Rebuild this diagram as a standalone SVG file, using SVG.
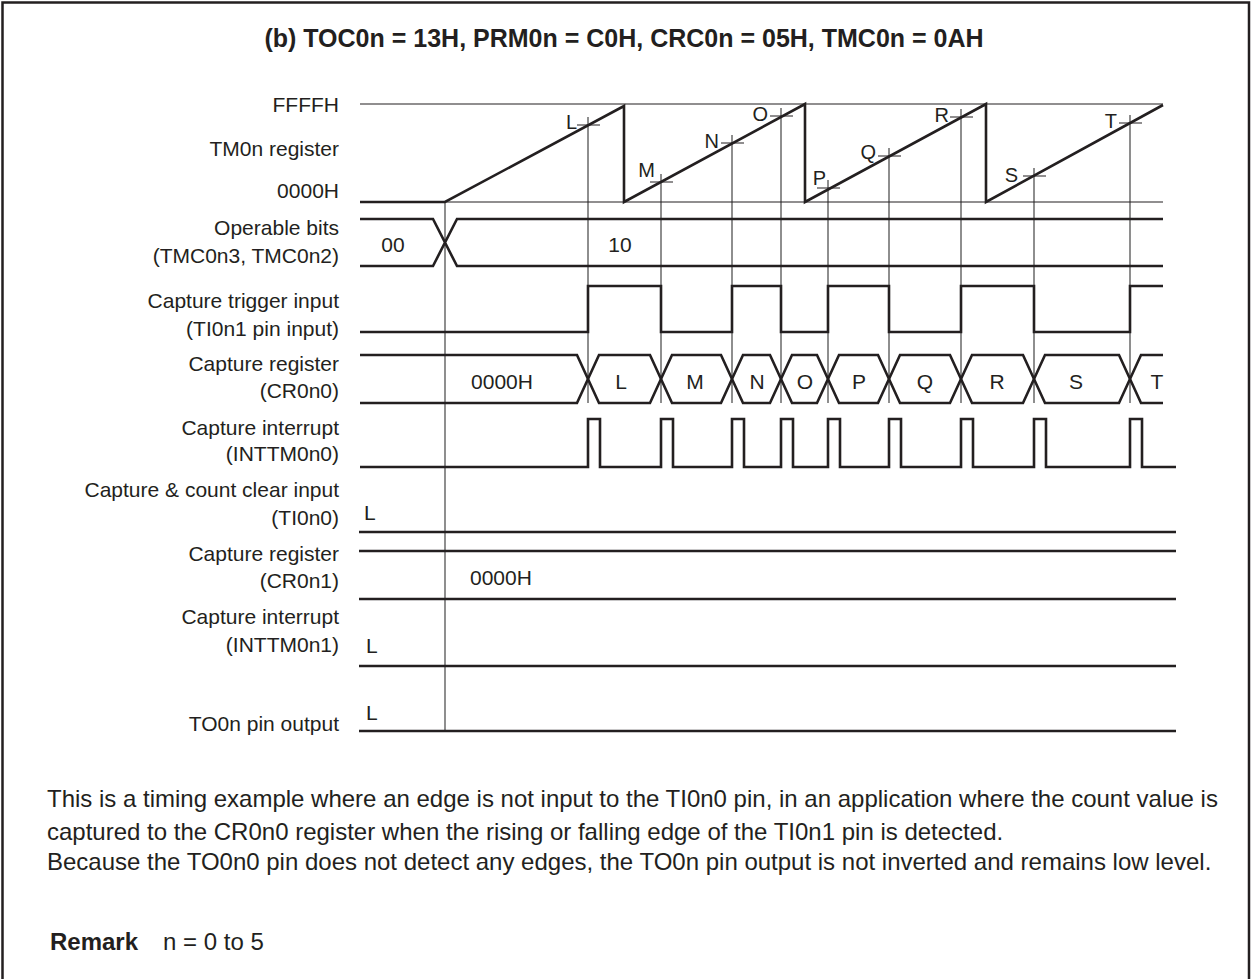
<svg xmlns="http://www.w3.org/2000/svg" width="1252" height="979" viewBox="0 0 1252 979">
<defs>
<style>
text{font-family:"Liberation Sans",Arial,sans-serif;fill:#231f20}
.lbl{font-size:21px;text-anchor:end}
.val{font-size:21px;text-anchor:middle}
.pt{font-size:20px;text-anchor:end}
.sm{font-size:21px}
.body{font-size:24px}
.title{font-size:25px;font-weight:bold;text-anchor:middle}
.sig{fill:none;stroke:#231f20;stroke-width:2.6;stroke-linejoin:miter}
.thin{fill:none;stroke:#231f20;stroke-width:1.2}
.guide{fill:none;stroke:#444;stroke-width:1.2}
</style>
</defs>
<rect width="1252" height="979" fill="#fff"/>
<path d="M2.5,979 V2.5 H1249 V979" fill="none" stroke="#231f20" stroke-width="2.5"/>
<text class="title" x="624" y="47">(b) TOC0n = 13H, PRM0n = C0H, CRC0n = 05H, TMC0n = 0AH</text>

<g id="labels">
<text class="lbl" x="339" y="112">FFFFH</text>
<text class="lbl" x="339" y="156">TM0n register</text>
<text class="lbl" x="339" y="198">0000H</text>
<text class="lbl" x="339" y="235">Operable bits</text>
<text class="lbl" x="339" y="263">(TMC0n3, TMC0n2)</text>
<text class="lbl" x="339" y="308">Capture trigger input</text>
<text class="lbl" x="339" y="336">(TI0n1 pin input)</text>
<text class="lbl" x="339" y="371">Capture register</text>
<text class="lbl" x="339" y="398">(CR0n0)</text>
<text class="lbl" x="339" y="435">Capture interrupt</text>
<text class="lbl" x="339" y="461">(INTTM0n0)</text>
<text class="lbl" x="339" y="497">Capture &amp; count clear input</text>
<text class="lbl" x="339" y="525">(TI0n0)</text>
<text class="lbl" x="339" y="561">Capture register</text>
<text class="lbl" x="339" y="588">(CR0n1)</text>
<text class="lbl" x="339" y="624">Capture interrupt</text>
<text class="lbl" x="339" y="652">(INTTM0n1)</text>
<text class="lbl" x="339" y="731">TO0n pin output</text>
</g>

<g id="connectors">
<line class="guide" x1="445" y1="202" x2="445" y2="731"/>
<path class="guide" d="M588,117 V403 M661,174 V403 M732,135 V403 M781,108 V403 M828,180 V403 M889,148 V403 M961,109 V403 M1034,168 V403 M1130,115 V403"/>
<path class="thin" d="M577,125 H600 M650,182 H673 M721,143 H744 M770,116 H793 M817,188 H840 M878,156 H901 M950,117 H973 M1023,176 H1046 M1119,123 H1142"/>
</g>

<g id="tm0n">
<line class="thin" x1="360" y1="104" x2="1163" y2="104"/>
<line class="thin" x1="360" y1="202" x2="1163" y2="202"/>
<path class="sig" d="M360,202 H445 L624,106 V202 L805,104 V202 L986,104 V202 L1163,105"/>
<text class="pt" x="577" y="129">L</text>
<text class="pt" x="655" y="177">M</text>
<text class="pt" x="719" y="148">N</text>
<text class="pt" x="768" y="121">O</text>
<text class="pt" x="826" y="185">P</text>
<text class="pt" x="876" y="159">Q</text>
<text class="pt" x="949" y="122">R</text>
<text class="pt" x="1018" y="182">S</text>
<text class="pt" x="1117" y="128">T</text>
</g>

<g id="operable">
<path class="sig" d="M360,219 H433 L457,266 H1163 M360,266 H433 L457,219 H1163"/>
<text class="val" x="393" y="252">00</text>
<text class="val" x="620" y="252">10</text>
</g>

<g id="ti0n1">
<path class="sig" d="M360,332 H588 V286 H661 V332 H732 V286 H781 V332 H828 V286 H889 V332 H961 V286 H1034 V332 H1130 V286 H1163"/>
</g>

<g id="cr0n0">
<path class="sig" d="M360,355 H577 L599,403 H650 L672,355 H721 L743,403 H770 L792,355 H817 L839,403 H878 L900,355 H950 L972,403 H1023 L1045,355 H1119 L1141,403 H1163"/>
<path class="sig" d="M360,403 H577 L599,355 H650 L672,403 H721 L743,355 H770 L792,403 H817 L839,355 H878 L900,403 H950 L972,355 H1023 L1045,403 H1119 L1141,355 H1163"/>
<text class="val" x="502" y="389">0000H</text>
<text class="val" x="621" y="389">L</text>
<text class="val" x="695" y="389">M</text>
<text class="val" x="757" y="389">N</text>
<text class="val" x="805" y="389">O</text>
<text class="val" x="859" y="389">P</text>
<text class="val" x="925" y="389">Q</text>
<text class="val" x="997" y="389">R</text>
<text class="val" x="1076" y="389">S</text>
<text class="val" x="1157" y="389">T</text>
</g>

<g id="inttm0n0">
<path class="sig" d="M360,467 H588 V419 H600 V467 H661 V419 H673 V467 H732 V419 H744 V467 H781 V419 H793 V467 H828 V419 H840 V467 H889 V419 H901 V467 H961 V419 H973 V467 H1034 V419 H1046 V467 H1130 V419 H1142 V467 H1176"/>
</g>

<g id="ti0n0">
<line class="sig" x1="359" y1="532" x2="1176" y2="532"/>
<text class="sm" x="364" y="520">L</text>
</g>

<g id="cr0n1">
<line class="sig" x1="359" y1="551" x2="1176" y2="551"/>
<line class="sig" x1="359" y1="599" x2="1176" y2="599"/>
<text class="sm" x="470" y="585">0000H</text>
</g>

<g id="inttm0n1">
<line class="sig" x1="359" y1="666" x2="1176" y2="666"/>
<text class="sm" x="366" y="653">L</text>
</g>

<g id="to0n">
<line class="sig" x1="359" y1="731" x2="1176" y2="731"/>
<text class="sm" x="366" y="720">L</text>
</g>

<g id="notes">
<text class="body" x="47" y="807">This is a timing example where an edge is not input to the TI0n0 pin, in an application where the count value is</text>
<text class="body" x="47" y="840">captured to the CR0n0 register when the rising or falling edge of the TI0n1 pin is detected.</text>
<text class="body" x="47" y="870">Because the TO0n0 pin does not detect any edges, the TO0n pin output is not inverted and remains low level.</text>
<text class="body" x="50" y="950"><tspan font-weight="bold">Remark</tspan><tspan x="163">n = 0 to 5</tspan></text>
</g>
</svg>
